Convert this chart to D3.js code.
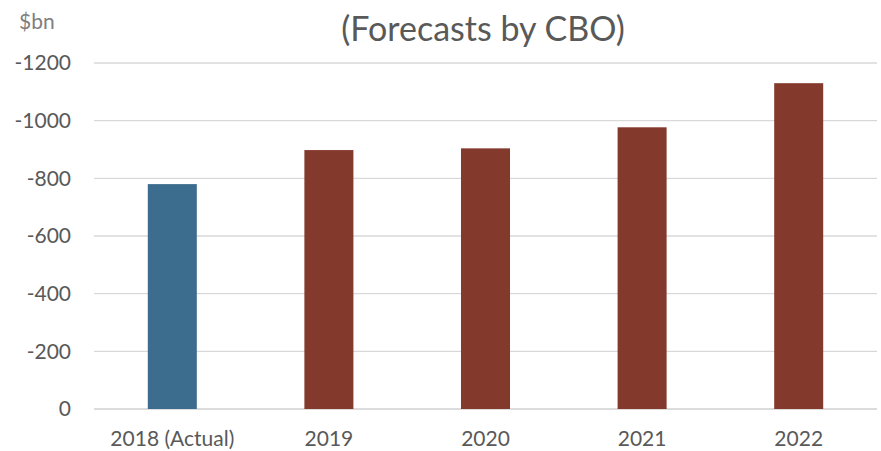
<!DOCTYPE html>
<html><head><meta charset="utf-8">
<script src="https://cdn.jsdelivr.net/npm/d3@7"></script>
<style>body{margin:0;background:#fff}</style>
</head><body><svg id="c" width="881" height="451"></svg>
<script>
const categories = ["2018 (Actual)", "2019", "2020", "2021", "2022"];
const values = [-780, -898, -904, -977, -1130];
const barColors = ["#3d6d8e", "#83392c", "#83392c", "#83392c", "#83392c"];
const yTicks = [0, -200, -400, -600, -800, -1000, -1200];
const title = "(Forecasts by CBO)";
const unitLabel = "$bn";

(function () {
const svg = d3.select("#c");
const font = "Lato, 'Open Sans', sans-serif";
const pL = 94, pR = 877, pT = 63, pB = 409;

const x = d3.scaleBand().domain(categories).range([pL, pR]).paddingInner(0.687).paddingOuter(0.3435);
const y = d3.scaleLinear().domain([0, -1200]).range([pB, pT]);

svg.append("g").selectAll("line").data(yTicks).join("line")
  .attr("x1", pL).attr("x2", pR)
  .attr("y1", d => y(d)).attr("y2", d => y(d))
  .attr("stroke", d => d === 0 ? "#d0d0d0" : "#d9d9d9").attr("stroke-width", 1.3);

const yAxis = d3.axisLeft(y).tickValues(yTicks).tickSize(0).tickPadding(0).tickFormat(d => String(d));
const ga = svg.append("g").attr("transform", `translate(71,0)`).call(yAxis);
ga.select(".domain").remove();
ga.selectAll("text").attr("font-family", font).attr("font-size", 21).attr("fill", "#595959");

svg.append("g").selectAll("rect").data(values).join("rect")
  .attr("x", (d, i) => x(categories[i]))
  .attr("width", x.bandwidth())
  .attr("y", d => y(d))
  .attr("height", d => y(0) - y(d))
  .attr("fill", (d, i) => barColors[i]);

const xAxis = d3.axisBottom(x).tickSize(0).tickPadding(0);
const gx = svg.append("g").attr("transform", `translate(0,${pB + 22})`).call(xAxis);
gx.select(".domain").remove();
gx.selectAll("text").attr("font-family", font).attr("font-size", 21).attr("fill", "#595959");

svg.append("text").attr("x", 483).attr("y", 41).attr("text-anchor", "middle")
  .attr("font-family", font).attr("font-size", 34).attr("fill", "#595959").text(title);
svg.append("text").attr("x", 19).attr("y", 29)
  .attr("font-family", font).attr("font-size", 21).attr("fill", "#7f7f7f").text(unitLabel);
})();
</script></body></html>
